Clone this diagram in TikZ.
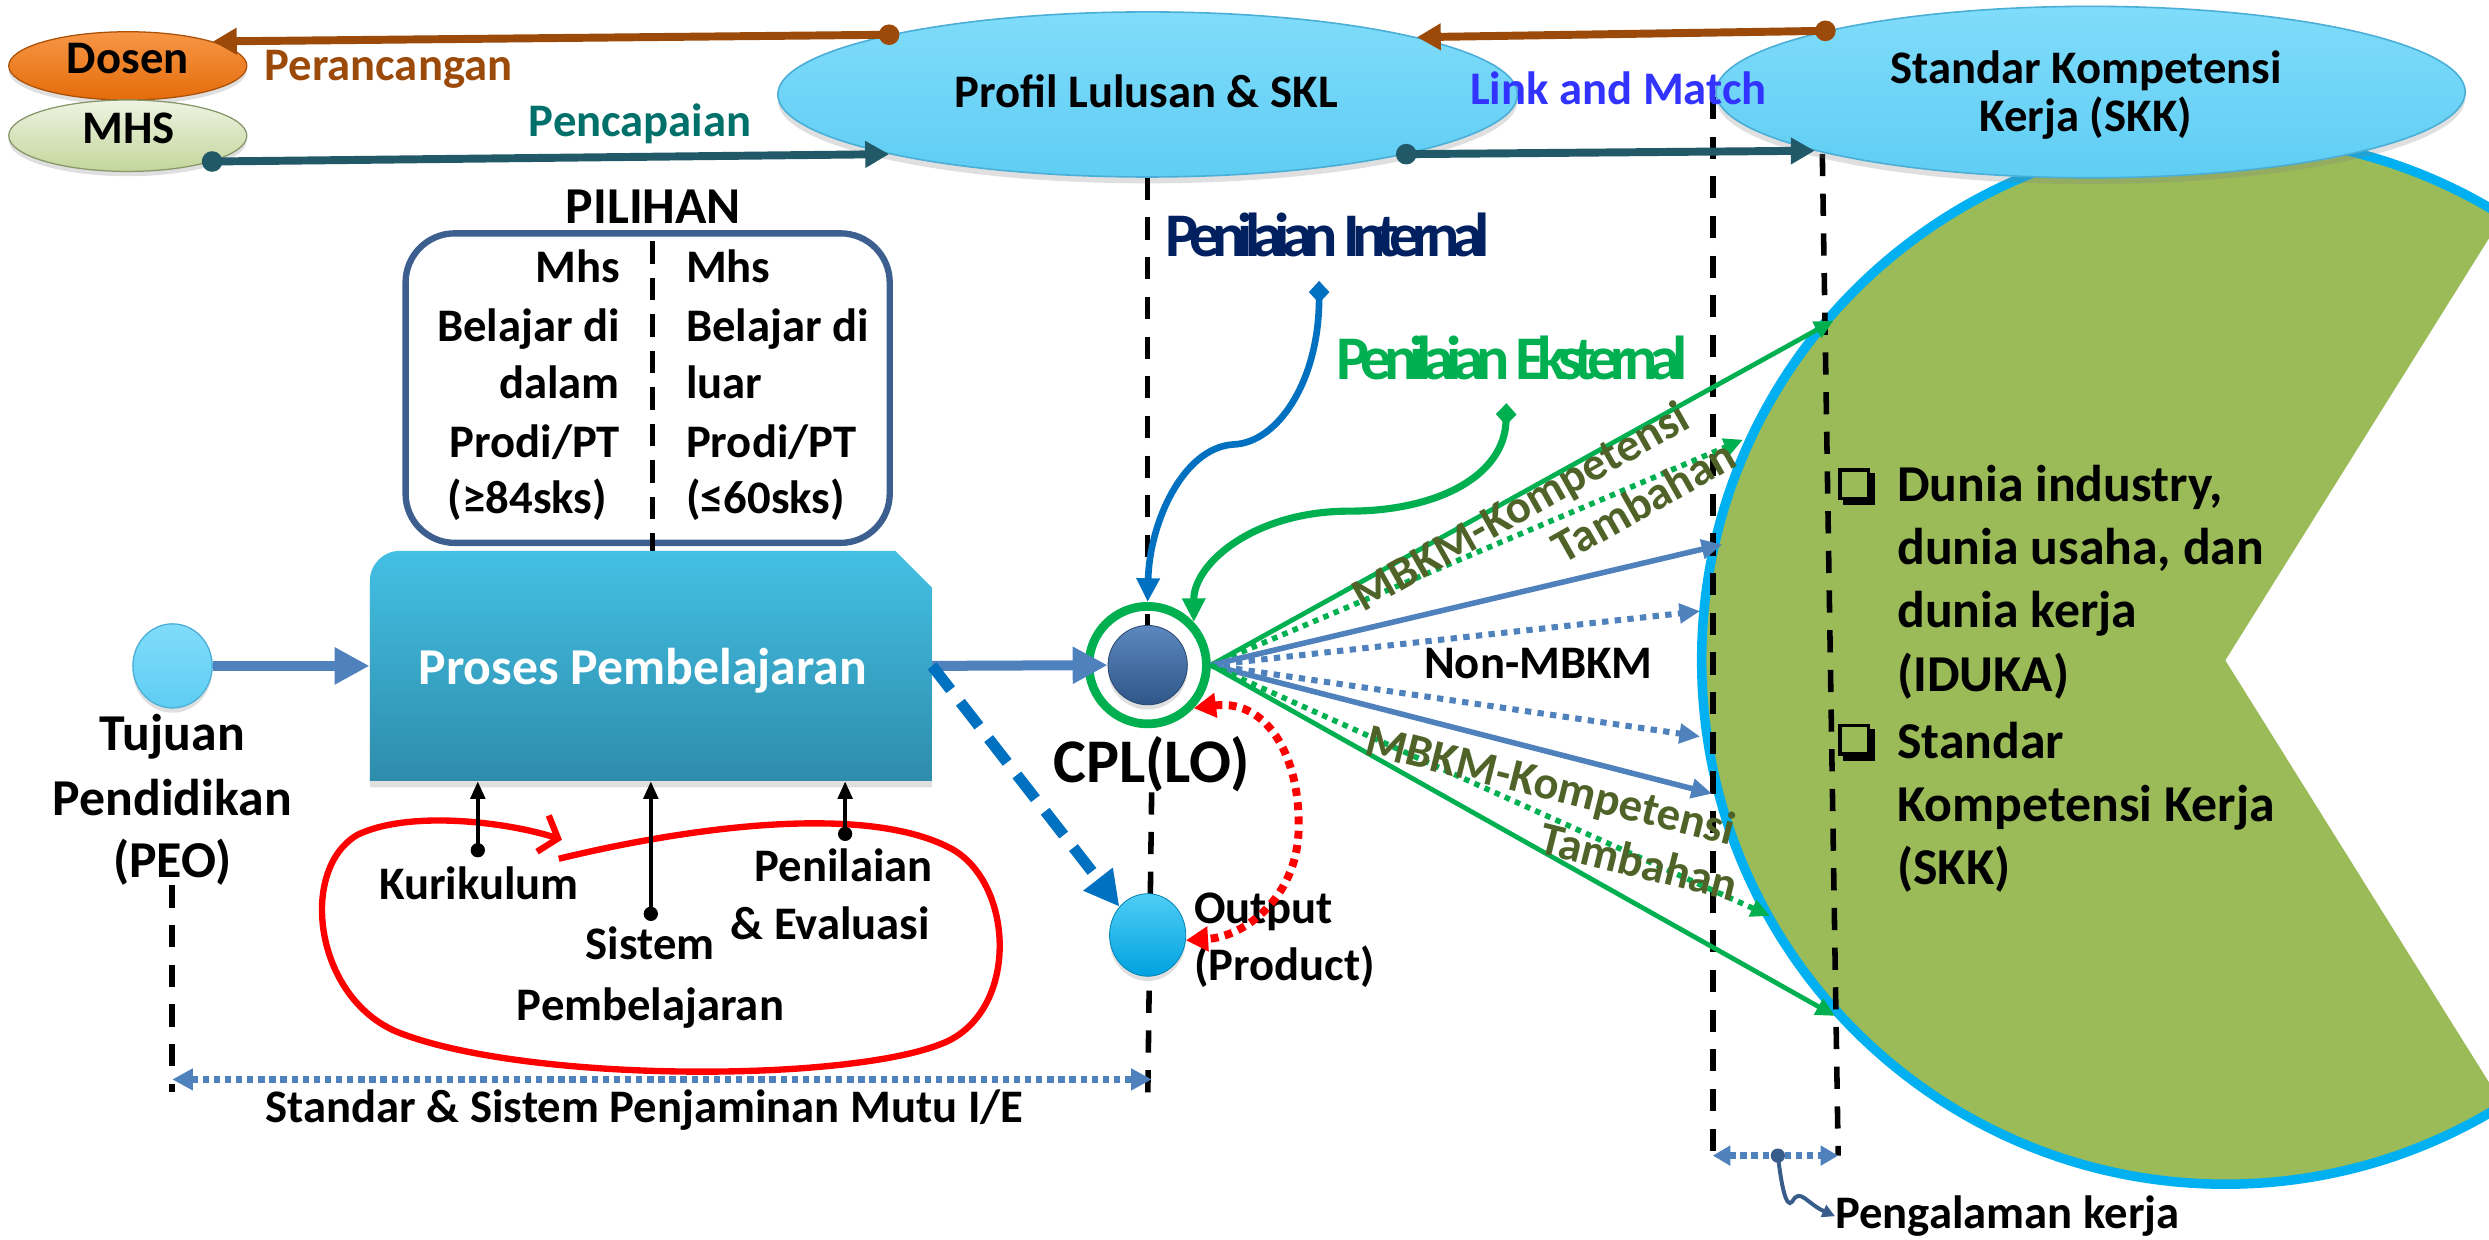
\documentclass[tikz,border=0pt]{standalone}
\usepackage{fontspec}
\setmainfont{Carlito}
\usetikzlibrary{arrows.meta,shapes.geometric,shadows}
\definecolor{brownA}{HTML}{9C4A0A}
\definecolor{tealA}{HTML}{215968}
\definecolor{tealT}{HTML}{00706B}
\definecolor{skyT}{HTML}{80DCFA}
\definecolor{skyB}{HTML}{5FCDF4}
\definecolor{skyE}{HTML}{4AAED6}
\definecolor{steel}{HTML}{4F81BD}
\definecolor{blueA}{HTML}{0070C0}
\definecolor{greenA}{HTML}{00B050}
\definecolor{navyA}{HTML}{002060}
\definecolor{oliveA}{HTML}{4F6228}
\definecolor{pacG}{HTML}{9BBB59}
\definecolor{pacB}{HTML}{00B0F0}
\definecolor{linkB}{HTML}{3333FF}
\definecolor{boxB}{HTML}{3C5F8F}
\definecolor{redA}{HTML}{FF0000}
\definecolor{procT}{HTML}{43C0E4}
\definecolor{procB}{HTML}{2E8CAB}
\definecolor{cplT}{HTML}{5C88BF}
\definecolor{cplB}{HTML}{2F5688}
\definecolor{outT}{HTML}{4FCDF6}
\definecolor{outB}{HTML}{00A2E0}
\definecolor{dosT}{HTML}{F79646}
\definecolor{dosB}{HTML}{E46C0A}
\definecolor{mhsT}{HTML}{EEF3E2}
\definecolor{mhsB}{HTML}{C3D69B}
\definecolor{pathB}{HTML}{385D8A}
\newcommand\szS{\fontsize{29.4}{35.9}\selectfont}
\newcommand\szM{\fontsize{32.6}{39.8}\selectfont}
\newcommand\szL{\fontsize{39.1}{47.7}\selectfont}
\begin{document}
\begin{tikzpicture}[x=1pt,y=-1pt,
  txt/.style={inner sep=0pt, font=\bfseries\szS},
  txtM/.style={inner sep=0pt, font=\bfseries\szM},
  olive/.style={inner sep=0pt, text=oliveA, font=\bfseries\szS},
  bigell/.style={ellipse, inner sep=0pt, top color=skyT, bottom color=skyB, draw=skyE, line width=1pt,
     drop shadow={opacity=0.25, shadow xshift=0pt, shadow yshift=-4pt}},
  dashv/.style={draw=black, line width=3.5pt, dash pattern=on 14pt off 11pt},
  fanG/.style={draw=greenA, line width=3pt, -{Triangle[length=12pt,width=11pt]}},
  fanGd/.style={draw=greenA, line width=3.5pt, dash pattern=on 3.5pt off 3.5pt, -{Triangle[length=12pt,width=11pt]}},
  fanB/.style={draw=steel, line width=3.5pt, -{Triangle[length=13pt,width=12pt]}},
  fanBd/.style={draw=steel, line width=3.8pt, dash pattern=on 4pt off 4pt, -{Triangle[length=13pt,width=12pt]}},
  fat/.style={draw=steel, line width=6.3pt, -{Triangle[length=22pt,width=22pt]}},
  topline/.style={line width=5pt, -{Triangle[length=15pt,width=16pt]}},
  bdot/.style={circle, inner sep=0pt, minimum size=13pt},
  kdot/.style={circle, fill=black, inner sep=0pt, minimum size=9pt},
  karrow/.style={line width=2.5pt, -{Triangle[length=11pt,width=9pt]}},
  dotdbl/.style={draw=steel, line width=4pt, dash pattern=on 4pt off 3pt, {Triangle[length=13pt,width=13pt]}-{Triangle[length=13pt,width=13pt]}}
]
\useasboundingbox (0,0) rectangle (1568,781);
\clip (0,0) rectangle (1568,781);

% ---- big green pacman ----
\fill[pacG, draw=pacB, line width=6pt] (1402,416) circle[radius=330];
\fill[white] (1402,416) -- (1700,-61) -- (1700,893) -- cycle;

% ---- dashed verticals at right ----
\coordinate (dl1t) at (1079,61); \coordinate (dl1b) at (1079,728);
\coordinate (dl2t) at (1148,97); \coordinate (dl2b) at (1158,728);
\draw[dashv] (dl1t) -- (dl1b);
\draw[dashv] (dl2t) -- (dl2b);

% ---- top ellipses ----
\node[bigell, minimum width=466pt, minimum height=104pt] (profil) at (723,59.5) {};
\node[bigell, minimum width=472pt, minimum height=108pt] (skk) at (1317,58) {};
\node[ellipse, inner sep=0pt, minimum width=150pt, minimum height=43pt, top color=dosT, bottom color=dosB, draw=dosB!75!black, line width=0.8pt,
  drop shadow={opacity=0.25, shadow xshift=0pt, shadow yshift=-3pt}] (dosen) at (80.5,41.5) {};
\node[ellipse, inner sep=0pt, minimum width=150pt, minimum height=45pt, top color=mhsT, bottom color=mhsB, draw=mhsB!70!black, line width=0.8pt,
  drop shadow={opacity=0.25, shadow xshift=0pt, shadow yshift=-3pt}] (mhs) at (80.5,85.5) {};

\node[txt, anchor=base] (tprofil) at (722,68) {Profil Lulusan \& SKL};
\node[txt, anchor=base] (tskk1) at (1314,52.6) {Standar Kompetensi};
\node[txt, anchor=base] (tskk2) at (1314,83) {Kerja (SKK)};
\node[txt, anchor=base] (tdosen) at (80.5,46) {Dosen};
\node[txt, anchor=base] (tmhs) at (81,90.3) {MHS};

% ---- top connectors ----
\node[bdot, fill=brownA] (bd1) at (profil.167.4) {};
\node[bdot, fill=brownA] (bd2) at (skk.167.4) {};
\draw[brownA, topline] (bd1.center) -- (dosen.16);
\draw[brownA, topline] (bd2.center) -- (profil.12.4);
\node[bdot, fill=tealA] (td1) at (mhs.-17) {};
\node[bdot, fill=tealA] (td2) at (profil.-13) {};
\draw[tealA, topline] (td1.center) -- (profil.193);
\draw[tealA, topline] (td2.center) -- (skk.192.9);

\node[txt, text=brownA, anchor=base west] (tperan) at (166.4,50.4) {Perancangan};
\node[txt, text=tealT, anchor=base west] (tpenc) at (333,86) {Pencapaian};
\node[txt, text=linkB, anchor=base west] (tlink) at (926,66) {Link and Match};

% ---- PILIHAN ----
\node[txtM, anchor=base] (tpil) at (411.6,140.6) {PILIHAN};
\node[draw=boxB, line width=4pt, rounded corners=31pt, minimum width=305pt, minimum height=195pt, inner sep=0pt] (pilbox) at (408,244.5) {};
\coordinate (pd1) at (411,152); \coordinate (pd2) at (411,347);
\draw[line width=3pt, dash pattern=on 14pt off 9pt] (pd1) -- (pd2);
\node[txt, anchor=base east] (l1) at (390.7,178) {Mhs};
\node[txt, anchor=base east] (l2) at (390.7,215) {Belajar di};
\node[txt, anchor=base east] (l3) at (390.7,251) {dalam};
\node[txt, anchor=base east] (l4) at (390.7,288) {Prodi/PT};
\node[txt, anchor=base west] (l5) at (282,323.5) {(≥84sks)};
\node[txt, anchor=base west] (r1) at (432,178) {Mhs};
\node[txt, anchor=base west] (r2) at (432,215) {Belajar di};
\node[txt, anchor=base west] (r3) at (432,251) {luar};
\node[txt, anchor=base west] (r4) at (432,288) {Prodi/PT};
\node[txt, anchor=base west] (r5) at (432,323.5) {(≤60sks)};

% ---- Proses box ----
\path[top color=procT, bottom color=procB, drop shadow={opacity=0.25, shadow xshift=0pt, shadow yshift=-4pt}]
  (252,347) -- (564,347) -- (587,370) -- (587,492) -- (233,492) -- (233,366) .. controls (233,355.5) and (241.5,347) .. (252,347) -- cycle;
\node[inner sep=0pt, minimum width=354pt, minimum height=145pt] (proses) at (410,419.5) {};
\node[txtM, text=white, anchor=base] (tproses) at (405,431.3) {Proses Pembelajaran};

% ---- Tujuan ----
\node[ellipse, inner sep=0pt, minimum width=50pt, minimum height=53pt, top color=skyT, bottom color=skyB, draw=skyE, line width=0.8pt,
  drop shadow={opacity=0.25, shadow xshift=0pt, shadow yshift=-3pt}] (tujuan) at (108.7,419.5) {};
\node[txtM, anchor=base] (tt1) at (108.5,472.6) {Tujuan};
\node[txtM, anchor=base] (tt2) at (108.5,513.5) {Pendidikan};
\node[txtM, anchor=base] (tt3) at (108.5,552.6) {(PEO)};
\draw[fat] (tujuan.east) -- (proses.west);

% ---- vertical dashed lines left / centre ----
\coordinate (peoB) at (108.5,688);
\draw[dashv] (tt3.south) -- (peoB);
\draw[dashv] (profil.south) -- (723,394);
\coordinate (cplbot) at (723,696);
\node[inner sep=0pt, font=\bfseries\szL, anchor=base] (tcpl) at (725.5,493) {CPL(LO)};
\draw[dashv] (tcpl.south) -- (cplbot);

% ---- CPL ----
\node[circle, minimum size=50pt, inner sep=0pt, top color=cplT, bottom color=cplB, draw=cplB!80!black, line width=0.5pt,
  drop shadow={opacity=0.25, shadow xshift=0pt, shadow yshift=-3pt}] (cpl) at (723,419) {};
\node[circle, minimum size=74pt, inner sep=0pt, draw=greenA, line width=5.5pt] (cplring) at (723,419) {};
\draw[fat] (proses.east) -- (cpl.west);

% ---- Output ----
\node[ellipse, minimum width=48pt, minimum height=52pt, inner sep=0pt, top color=outT, bottom color=outB, draw=outB!80!black, line width=0.5pt,
  drop shadow={opacity=0.25, shadow xshift=0pt, shadow yshift=-3pt}] (output) at (723,589) {};
\node[txt, anchor=base west] (tout1) at (752,581.8) {Output};
\node[txt, anchor=base west] (tout2) at (752,617.5) {(Product)};
\draw[blueA, line width=7pt, dash pattern=on 19pt off 10pt, -{Triangle[length=22pt,width=22pt]}] (proses.east) -- (output.135);

% red dotted double arrow
\draw[redA, line width=5pt, dash pattern=on 5pt off 4pt, {Triangle[length=14pt,width=15pt]}-{Triangle[length=14pt,width=15pt]}]
  (cplring.-43) .. controls (800,440) and (820,480) .. (818,525) .. controls (816,565) and (785,590) .. (output.-8);

% ---- red loop + small arrows ----
\draw[redA, line width=4pt, -{Straight Barb[length=10pt,width=24pt,line width=4pt]}]
  (352,541) .. controls (430,522) and (545,505) .. (600,535)
  .. controls (640,558) and (642,640) .. (592,658)
  .. controls (530,682) and (330,682) .. (250,650)
  .. controls (198,628) and (188,548) .. (225,526)
  .. controls (258,510) and (320,518) .. (354,529);
\node[kdot] (k1) at (301,535.6) {};
\node[kdot] (k2) at (410,575.7) {};
\node[kdot] (k3) at (532.4,525.3) {};
\draw[karrow] (k1.center) -- (k1.center |- proses.south);
\draw[karrow] (k2.center) -- (k2.center |- proses.south);
\draw[karrow] (k3.center) -- (k3.center |- proses.south);
\node[txt, anchor=base west] (tkur) at (238.6,566.4) {Kurikulum};
\node[txt, anchor=base west] (tsis) at (368.8,604.4) {Sistem};
\node[txt, anchor=base] (tpem) at (409.8,643) {Pembelajaran};
\node[txt, anchor=base] (tpen) at (531.5,555) {Penilaian};
\node[txt, anchor=base] (teva) at (523,591.6) {\& Evaluasi};

% ---- bottom ----
\coordinate (ql) at (108.5,680); \coordinate (qr) at (725.6,680);
\draw[dotdbl] (ql) -- (qr);
\node[txt, anchor=base] (tstd) at (406,707) {Standar \& Sistem Penjaminan Mutu I/E};

% ---- Penilaian labels and curves ----
\node[inner sep=0pt, anchor=base west, text=navyA, font={\bfseries\szL\addfontfeature{LetterSpace=-13}}] (pint) at (734,161.7) {Penilaian Internal};
\node[inner sep=0pt, anchor=base west, text=greenA, font={\bfseries\szL\addfontfeature{LetterSpace=-13}}] (pext) at (842,239) {Penilaian Eksternal};
\coordinate (pintS) at (831,177);
\coordinate (pextS) at (949,254);
\draw[blueA, line width=4.2pt, {Diamond[length=14pt,width=13pt]}-{Triangle[length=15pt,width=14pt]}]
  (pintS) .. controls (831,240) and (805,279) .. (777,280) .. controls (745,282) and (724,330) .. (cplring.north);
\draw[greenA, line width=4.5pt, {Diamond[length=14pt,width=13pt]}-{Triangle[length=15pt,width=14pt]}]
  (pextS) .. controls (948,300) and (905,322) .. (850,322) .. controls (790,322) and (752,355) .. (cplring.43);

% ---- fan ----
\coordinate (f1) at (1155,202);
\coordinate (f2) at (1098,277);
\coordinate (f3) at (1085,343);
\coordinate (f4) at (1071,385);
\coordinate (f5) at (1071,464);
\coordinate (f6) at (1078.5,500);
\coordinate (f7) at (1115,577);
\coordinate (f8) at (1156,640);
\draw[fanG] (cplring.east) -- (f1);
\draw[fanGd] (cplring.east) -- (f2);
\draw[fanB] (cplring.east) -- (f3);
\draw[fanBd] (cplring.east) -- (f4);
\draw[fanBd] (cplring.east) -- (f5);
\draw[fanB] (cplring.east) -- (f6);
\draw[fanGd] (cplring.east) -- (f7);
\draw[fanG] (cplring.east) -- (f8);

\node[olive, anchor=base west, rotate=29.5] (mb1) at (859,386) {MBKM-Kompetensi};
\node[olive, anchor=base east, rotate=29.5] (tb1) at (1096,293) {Tambahan};
\node[olive, anchor=base west, rotate=-14] (mb2) at (859,475) {MBKM-Kompetensi};
\node[olive, anchor=base east, rotate=-14] (tb2) at (1092,568) {Tambahan};
\node[txt, anchor=base west] (tnon) at (897,427.4) {Non-MBKM};

% ---- green region text ----
\draw[line width=2.2pt] (1159,296) rectangle (1177,314);
\draw[line width=3.5pt] (1161,316.5) -- (1179.5,316.5) -- (1179.5,298);
\draw[line width=2.2pt] (1159,457) rectangle (1177,475);
\draw[line width=3.5pt] (1161,477.5) -- (1179.5,477.5) -- (1179.5,459);
\node[txtM, anchor=base west] (g1) at (1195,316) {Dunia industry,};
\node[txtM, anchor=base west] (g2) at (1195,355.8) {dunia usaha, dan};
\node[txtM, anchor=base west] (g3) at (1195,395.6) {dunia kerja};
\node[txtM, anchor=base west] (g4) at (1195,435.4) {(IDUKA)};
\node[txtM, anchor=base west] (g5) at (1195,477.6) {Standar};
\node[txtM, anchor=base west] (g6) at (1195,517.4) {Kompetensi Kerja};
\node[txtM, anchor=base west] (g7) at (1195,557.2) {(SKK)};

% ---- pengalaman kerja ----
\coordinate (pe1) at (1079,728); \coordinate (pe2) at (1158,728);
\draw[draw=steel, line width=4pt, dash pattern=on 4pt off 3pt, {Triangle[length=11pt,width=12pt]}-{Triangle[length=11pt,width=12pt]}] (pe1) -- (pe2);
\node[txt, anchor=base west] (peng) at (1156,774) {Pengalaman kerja};
\node[circle, fill=pathB, minimum size=9pt, inner sep=0pt] (pedot) at (1120,728) {};
\draw[pathB, line width=2.5pt, -{Triangle[length=8pt,width=8pt]}]
  (pedot.center) .. controls (1122,745) and (1125,762) .. (1129,757) .. controls (1134,748) and (1138,758) .. (peng.west);
\end{tikzpicture}
\end{document}
